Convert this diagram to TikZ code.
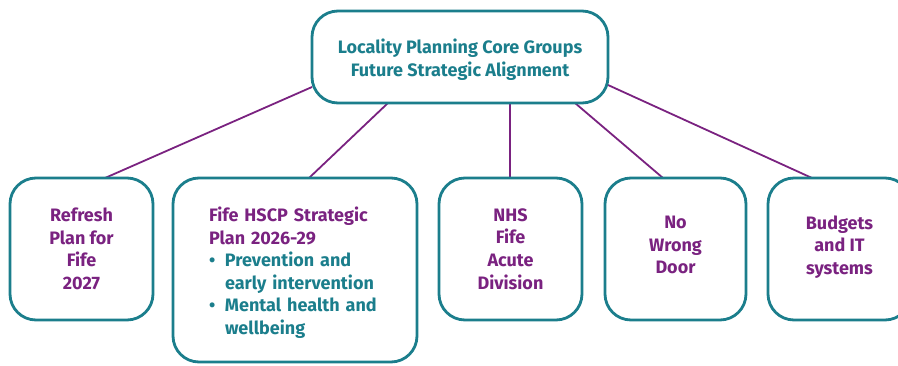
\documentclass[tikz,border=0pt]{standalone}
\usepackage{fontspec}
\setmainfont{Fira Sans}
\usepackage{xcolor}
\usetikzlibrary{positioning,backgrounds}
\pgfdeclarelayer{edgelayer}
\pgfdeclarelayer{nodelayer}
\pgfsetlayers{background,edgelayer,nodelayer,main}
\definecolor{hscpteal}{RGB}{27,126,140}
\definecolor{hscppurple}{RGB}{122,34,128}
\tikzstyle{none}=[inner sep=0mm]
\tikzstyle{groupbox}=[draw=hscpteal,line width=2.8pt,fill=white,rounded corners=26pt,align=center,font=\fontsize{18}{22.6}\selectfont\bfseries]
\tikzstyle{core}=[groupbox,minimum width=296pt,minimum height=92pt,text=hscpteal]
\tikzstyle{strand}=[groupbox,minimum width=143pt,minimum height=142pt,text=hscppurple]
\tikzstyle{link}=[draw=hscppurple,line width=1.8pt]
\newcommand{\bulletline}[1]{{\color{hscpteal}\makebox[16pt][l]{\textbullet}#1}}
\newcommand{\bulletrest}[1]{{\color{hscpteal}\hspace*{16pt}#1}}
% struts to nudge text inside a box
\newcommand{\topstrut}{\rule{0pt}{20pt}}
\newcommand{\botstrut}{\rule[-8pt]{0pt}{8pt}}

\begin{document}
\begin{tikzpicture}[x=1pt,y=-1pt]
	\useasboundingbox (0,0) rectangle (898,365);
	\clip (0,0) rectangle (898,365);
	\begin{pgfonlayer}{nodelayer}
		\node [style=core] (0) at (460,57) {\topstrut Locality Planning Core Groups\\Future Strategic Alignment};
		\node [style=strand] (1) at (81.5,249) {Refresh\\Plan for\\Fife\\2027};
		\node [style=groupbox, minimum height=184pt, text width=172pt, inner xsep=36pt, align=left, text=hscppurple] (2) at (295,270) {\topstrut Fife HSCP Strategic\\Plan 2026-29\\\bulletline{Prevention and}\\\bulletrest{early intervention}\\\bulletline{Mental health and}\\\bulletrest{wellbeing}};
		\node [style=strand] (3) at (510.5,249) {NHS\\Fife\\Acute\\Division};
		\node [style=strand, minimum width=141pt] (4) at (675.5,249) {No\\Wrong\\Door\botstrut};
		\node [style=strand] (5) at (839.5,249) {Budgets\\and IT\\systems\botstrut};
		\node [style=none] (6) at (312,87) {};
		\node [style=none] (7) at (105,178) {};
		\node [style=none] (8) at (388,103) {};
		\node [style=none] (9) at (309,178) {};
		\node [style=none] (10) at (510,103) {};
		\node [style=none] (11) at (510,178) {};
		\node [style=none] (12) at (575,103) {};
		\node [style=none] (13) at (663,178) {};
		\node [style=none] (14) at (608,85) {};
		\node [style=none] (15) at (812,178) {};
	\end{pgfonlayer}
	\begin{pgfonlayer}{edgelayer}
		\draw [style=link] (6.center) to (7.center);
		\draw [style=link] (8.center) to (9.center);
		\draw [style=link] (10.center) to (11.center);
		\draw [style=link] (12.center) to (13.center);
		\draw [style=link] (14.center) to (15.center);
	\end{pgfonlayer}
\end{tikzpicture}
\end{document}
